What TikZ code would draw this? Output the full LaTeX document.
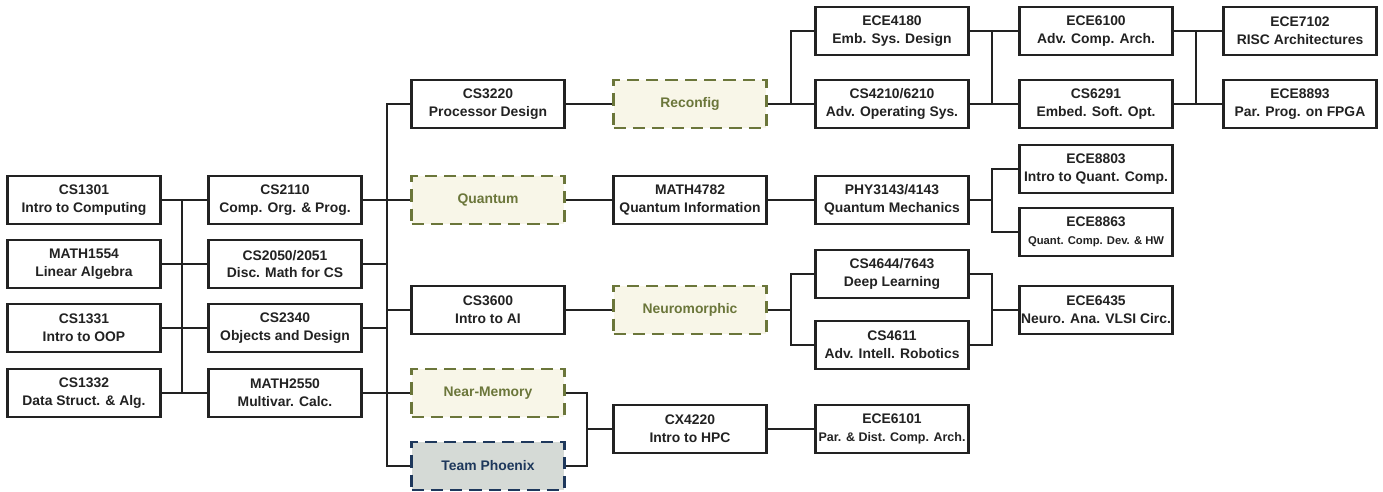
\documentclass[tikz,border=0pt]{standalone}
\usepackage{fontspec}
\setmainfont{Liberation Sans}
\usepackage{tikz}
\usetikzlibrary{positioning, calc}
\definecolor{crsLine}{RGB}{34,34,34}
\definecolor{crsOlive}{RGB}{107,118,58}
\definecolor{crsCream}{RGB}{248,246,232}
\definecolor{crsNavy}{RGB}{30,56,92}
\definecolor{crsGray}{RGB}{213,218,214}

\begin{document}
\begin{tikzpicture}[x=0.02cm, y=-0.02cm,
	course/.style={draw=crsLine, line width=1.4pt, fill=white, minimum width=3.06cm, minimum height=0.96cm, inner sep=0pt, align=center, text=crsLine, font=\bfseries\fontsize{7.9}{10.2}\selectfont},
	track/.style={course, draw=crsOlive, line width=1.6pt, fill=crsCream, text=crsOlive, dash pattern=on 7pt off 4pt},
	team/.style={track, draw=crsNavy, fill=crsGray, text=crsNavy},
	link/.style={draw=crsLine, line width=1.1pt}]
	\useasboundingbox (0,0) rectangle (1383,491);
	
	% Bus lines
	\coordinate (busA) at (182,0);
	\coordinate (busB) at (387,0);
	\coordinate (busC) at (587,0);
	\coordinate (busD) at (791,0);
	\coordinate (busE) at (992,0);
	\coordinate (busF) at (1196,0);
	
	% First year
	\node[course] (cs1301) at (84,200) {CS1301\\Intro to Computing};
	\node[course] (math1554) at (84,264) {MATH1554\\Linear Algebra};
	\node[course] (cs1331) at (84,328) {CS1331\\Intro to OOP};
	\node[course] (cs1332) at (84,393) {CS1332\\Data Struct. \& Alg.};
	
	% Second year
	\node[course] (cs2110) at (285,200) {CS2110\\Comp. Org. \& Prog.};
	\node[course] (cs2050) at (285,264) {CS2050/2051\\Disc. Math for CS};
	\node[course] (cs2340) at (285,328) {CS2340\\Objects and Design};
	\node[course] (math2550) at (285,393) {MATH2550\\Multivar. Calc.};
	
	% Tracks
	\node[course] (cs3220) at (488,104) {CS3220\\Processor Design};
	\node[track] (quantum) at (488,200) {Quantum};
	\node[course] (cs3600) at (488,310) {CS3600\\Intro to AI};
	\node[track] (nearmem) at (488,393) {Near-Memory};
	\node[team] (phoenix) at (488,466) {Team Phoenix};
	
	\node[track] (reconfig) at (690,104) {Reconfig};
	\node[course] (math4782) at (690,200) {MATH4782\\Quantum Information};
	\node[track] (neuro) at (690,310) {Neuromorphic};
	\node[course] (cx4220) at (690,429) {CX4220\\Intro to HPC};
	
	% Upper level
	\node[course] (ece4180) at (892,31) {ECE4180\\Emb. Sys. Design};
	\node[course] (cs4210) at (892,104) {CS4210/6210\\Adv. Operating Sys.};
	\node[course] (phy3143) at (892,200) {PHY3143/4143\\Quantum Mechanics};
	\node[course] (cs4644) at (892,274) {CS4644/7643\\Deep Learning};
	\node[course] (cs4611) at (892,345) {CS4611\\Adv. Intell. Robotics};
	\node[course] (ece6101) at (892,429) {ECE6101\\{\fontsize{7.1}{9}\selectfont Par. \& Dist. Comp. Arch.}};
	
	\node[course] (ece6100) at (1096,31) {ECE6100\\Adv. Comp. Arch.};
	\node[course] (cs6291) at (1096,104) {CS6291\\Embed. Soft. Opt.};
	\node[course] (ece8803) at (1096,169) {ECE8803\\Intro to Quant. Comp.};
	\node[course] (ece8863) at (1096,232) {ECE8863\\{\fontsize{6.4}{8}\selectfont Quant. Comp. Dev. \& HW}};
	\node[course] (ece6435) at (1096,310) {ECE6435\\Neuro. Ana. VLSI Circ.};
	
	\node[course] (ece7102) at (1300,31) {ECE7102\\RISC Architectures};
	\node[course] (ece8893) at (1300,104) {ECE8893\\Par. Prog. on FPGA};
	
	% Connections
	\draw[link] (cs1301.east) -- (cs2110.west);
	\draw[link] (math1554.east) -- (cs2050.west);
	\draw[link] (cs1331.east) -- (cs2340.west);
	\draw[link] (cs1332.east) -- (math2550.west);
	\draw[link] (busA |- cs1301.east) -- (busA |- cs1332.east);
	
	\draw[link] (cs2110.east) -- (quantum.west);
	\draw[link] (cs2050.east) -- (busB |- cs2050.east);
	\draw[link] (cs2340.east) -- (busB |- cs2340.east);
	\draw[link] (math2550.east) -- (nearmem.west);
	\draw[link] (cs3220.west) -| (busB |- phoenix.west) -- (phoenix.west);
	\draw[link] (busB |- cs3600.west) -- (cs3600.west);
	
	\draw[link] (cs3220.east) -- (reconfig.west);
	\draw[link] (quantum.east) -- (math4782.west);
	\draw[link] (cs3600.east) -- (neuro.west);
	\draw[link] (nearmem.east) -| (busC |- phoenix.east) -- (phoenix.east);
	\draw[link] (busC |- cx4220.west) -- (cx4220.west);
	
	\draw[link] (reconfig.east) -- (cs4210.west);
	\draw[link] (ece4180.west) -| (busD |- cs4210.west);
	\draw[link] (math4782.east) -- (phy3143.west);
	\draw[link] (neuro.east) -- (busD |- neuro.east);
	\draw[link] (cs4644.west) -| (busD |- cs4611.west) -- (cs4611.west);
	\draw[link] (cx4220.east) -- (ece6101.west);
	
	\draw[link] (ece4180.east) -- (ece6100.west);
	\draw[link] (cs4210.east) -- (cs6291.west);
	\draw[link] (busE |- ece4180.east) -- (busE |- cs4210.east);
	\draw[link] (phy3143.east) -- (busE |- phy3143.east);
	\draw[link] (ece8803.west) -| (busE |- ece8863.west) -- (ece8863.west);
	\draw[link] (cs4644.east) -| (busE |- cs4611.east) -- (cs4611.east);
	\draw[link] (busE |- ece6435.west) -- (ece6435.west);
	
	\draw[link] (ece6100.east) -- (ece7102.west);
	\draw[link] (cs6291.east) -- (ece8893.west);
	\draw[link] (busF |- ece6100.east) -- (busF |- cs6291.east);
\end{tikzpicture}
\end{document}
